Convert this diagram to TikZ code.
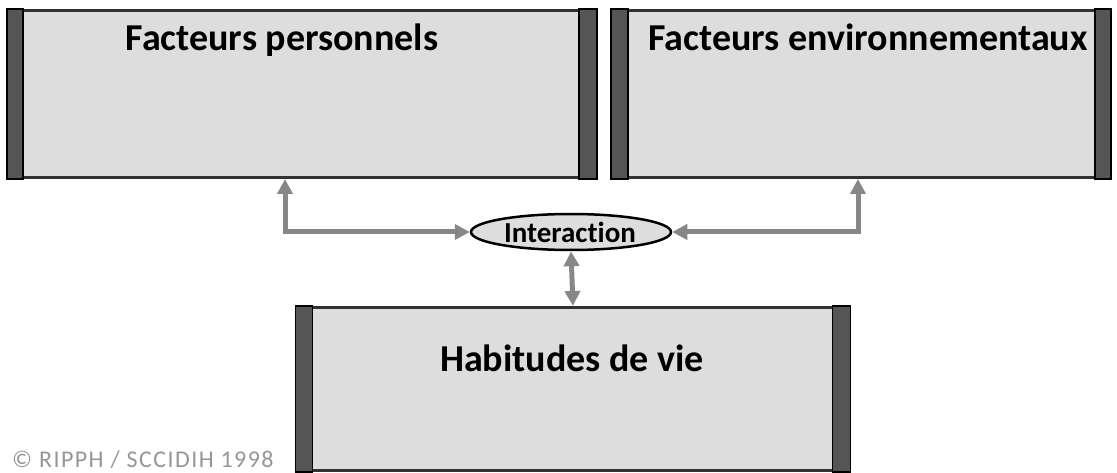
\documentclass[tikz,border=0pt]{standalone}
\usepackage{fontspec}
\setmainfont[Ligatures=NoCommon]{Carlito}
\usetikzlibrary{arrows.meta,shapes.geometric}
\definecolor{boxfill}{RGB}{221,221,221}
\definecolor{boxline}{RGB}{50,50,50}
\definecolor{barfill}{RGB}{85,85,85}
\definecolor{arrowgray}{RGB}{135,135,135}
\definecolor{copygray}{RGB}{150,150,150}
\tikzset{
  box/.style={draw=boxline, fill=boxfill, line width=3pt, rectangle, inner sep=0pt},
  bar/.style={fill=barfill, draw=black, line width=1.5pt},
  title/.style={font=\fontsize{38}{42}\selectfont\bfseries, inner sep=0pt, anchor=base},
  conn/.style={draw=arrowgray, line width=5pt, {Triangle[length=15pt,width=15pt]}-{Triangle[length=15pt,width=15pt]}},
  interbox/.style={ellipse, draw=black, fill=boxfill, line width=2.5pt, minimum width=200pt, minimum height=36pt, inner sep=0pt},
  intertext/.style={font=\fontsize{29}{32}\selectfont\bfseries, inner sep=0pt, anchor=base},
}
\begin{document}
\begin{tikzpicture}[x=1pt,y=-1pt]
\useasboundingbox (0,0) rectangle (1117,473);
% boxes
\node[box, minimum width=587pt, minimum height=167pt] (pers) at (302,94) {};
\node[box, minimum width=497pt, minimum height=167pt] (env) at (861,94) {};
\node[box, minimum width=552pt, minimum height=163pt] (hab) at (573,389) {};
% side bars
\draw[bar] (pers.north west) rectangle ([xshift=16pt]pers.south west);
\draw[bar] ([xshift=-18pt]pers.north east) rectangle (pers.south east);
\draw[bar] (env.north west) rectangle ([xshift=17pt]env.south west);
\draw[bar] ([xshift=-16pt]env.north east) rectangle (env.south east);
\draw[bar] (hab.north west) rectangle ([xshift=17pt]hab.south west);
\draw[bar] ([xshift=-18pt]hab.north east) rectangle (hab.south east);
% titles
\node[title] (perst) at (282,51) {Facteurs personnels};
\node[title] (envt) at (868,51) {Facteurs environnementaux};
\node[title] (habt) at (572,371) {Habitudes de vie};
% interaction
\node[interbox] (inter) at (571,232) {};
\node[intertext] (intert) at (570,243) {Interaction};
% connectors
\draw[conn] ([xshift=-17pt]pers.south) |- (inter.west);
\draw[conn] ([xshift=-3pt]env.south) |- (inter.east);
\draw[conn] (inter.south) -- (hab.north);
% copyright
\node[font=\fontsize{24}{26}\selectfont\addfontfeature{LetterSpace=6}, text=copygray, anchor=base west, inner sep=0pt] (copy) at (12,467) {© RIPPH / SCCIDIH 1998};
\end{tikzpicture}
\end{document}
